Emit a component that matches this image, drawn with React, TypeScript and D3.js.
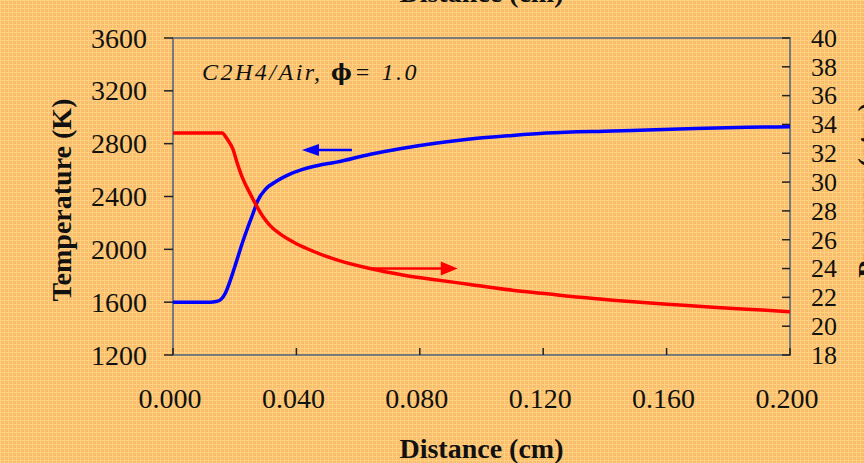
import React from "react";
import * as d3 from "d3";

const tempDist = [0, 0.012, 0.014, 0.0155, 0.017, 0.0185, 0.0195, 0.021, 0.0225, 0.024, 0.026, 0.0275, 0.030, 0.0335, 0.037, 0.042, 0.047, 0.053, 0.064, 0.0745, 0.0856, 0.0963, 0.11, 0.121, 0.1426, 0.164, 0.186, 0.2];
const tempVals = [1600, 1600, 1605, 1620, 1670, 1760, 1830, 1940, 2050, 2150, 2275, 2370, 2455, 2515, 2560, 2605, 2635, 2660, 2720, 2765, 2805, 2835, 2862, 2880, 2896, 2911, 2924, 2928];

const presDist = [0, 0.0159, 0.0175, 0.0194, 0.0207, 0.0227, 0.025, 0.0272, 0.0292, 0.0314, 0.0347, 0.0402, 0.0454, 0.0531, 0.0638, 0.0745, 0.0856, 0.0963, 0.11, 0.1212, 0.1319, 0.1426, 0.1536, 0.1643, 0.175, 0.186, 0.2];
const presVals = [33.4, 33.4, 33.0, 32.3, 31.4, 30.2, 29.2, 28.3, 27.6, 27.0, 26.4, 25.7, 25.2, 24.6, 24.0, 23.55, 23.2, 22.9, 22.5, 22.25, 22.0, 21.8, 21.62, 21.47, 21.32, 21.18, 21.0];

const xTicks = [0, 0.04, 0.08, 0.12, 0.16, 0.2];
const xTickLabels = ["0.000", "0.040", "0.080", "0.120", "0.160", "0.200"];
const leftTicks = [1200, 1600, 2000, 2400, 2800, 3200, 3600];
const rightTicks = [18, 20, 22, 24, 26, 28, 30, 32, 34, 36, 38, 40];

// annotation arrows: [fromDist, toDist, value]
const tempArrow = [0.058, 0.0418, 2752];
const presArrow = [0.0638, 0.0923, 24.0];

const xLabel = "Distance (cm)";
const leftLabel = "Temperature (K)";
const rightLabel = "Pressure (atm)";

export default function App() {
  const W = 864, H = 463;
  const L = 173, R = 790, T = 38, B = 355;
  const x = d3.scaleLinear().domain([0, 0.2]).range([L, R]);
  const yT = d3.scaleLinear().domain([1200, 3600]).range([B, T]);
  const yP = d3.scaleLinear().domain([18, 40]).range([B, T]);

  const tLine = d3.line<number>().x((_, i) => x(tempDist[i])).y((v) => yT(v)).curve(d3.curveMonotoneX);
  const pLine = d3.line<number>().x((_, i) => x(presDist[i])).y((v) => yP(v)).curve(d3.curveMonotoneX);

  const font = "'Liberation Serif', 'Times New Roman', serif";
  const axisCol = "#7a7a7a";

  const bx1 = x(tempArrow[0]), bx2 = x(tempArrow[1]), by = yT(tempArrow[2]);
  const rx1 = x(presArrow[0]), rx2 = x(presArrow[1]), ry = yP(presArrow[2]);

  return (
    <svg width={W} height={H} style={{ position: "absolute", left: 0, top: 0 }} fontFamily={font}>
      <defs>
        <pattern id="dither" width="4" height="4" patternUnits="userSpaceOnUse">
          <rect width="4" height="4" fill="#fdb86c" />
          <rect x="0" y="0" width="4" height="1" fill="#fbd37e" />
          <rect x="0" y="0" width="1" height="4" fill="#fbd37e" />
          <rect x="2" y="2" width="1" height="1" fill="#e6d27a" />
        </pattern>
      </defs>
      <rect width={W} height={H} fill="url(#dither)" />

      {/* frame */}
      <rect x={L} y={T} width={R - L} height={B - T} fill="none" stroke={axisCol} strokeWidth={2} />

      {/* left ticks */}
      {leftTicks.map((t) => (
        <g key={"l" + t}>
          <line x1={L - 9} x2={L} y1={yT(t)} y2={yT(t)} stroke="#222" strokeWidth={1.5} />
          <text x={147} y={yT(t)} dy="0.34em" textAnchor="end" fontSize={28} fill="#111">{t}</text>
        </g>
      ))}

      {/* right ticks */}
      {rightTicks.map((t) => (
        <g key={"r" + t}>
          <line x1={R - 8} x2={R} y1={yP(t)} y2={yP(t)} stroke="#222" strokeWidth={1.5} />
          <text x={811} y={yP(t)} dy="0.34em" textAnchor="start" fontSize={26} fill="#111">{t}</text>
        </g>
      ))}

      {/* x ticks */}
      {xTicks.map((t, i) => (
        <g key={"x" + t}>
          <line x1={x(t)} x2={x(t)} y1={B} y2={B - 7} stroke="#222" strokeWidth={1.5} />
          <text x={x(t) - 3} y={408} textAnchor="middle" fontSize={28} fill="#111">{xTickLabels[i]}</text>
        </g>
      ))}

      {/* series */}
      <path d={tLine(tempVals) || ""} fill="none" stroke="#0000ff" strokeWidth={3.5} />
      <path d={pLine(presVals) || ""} fill="none" stroke="#ff0000" strokeWidth={3.5} />

      {/* arrows */}
      <line x1={bx1} x2={bx2 + 14} y1={by} y2={by} stroke="#0000ff" strokeWidth={2.5} />
      <path d={`M${bx2},${by} L${bx2 + 17},${by - 6} L${bx2 + 17},${by + 6} Z`} fill="#0000ff" />
      <line x1={rx1} x2={rx2 - 14} y1={ry} y2={ry} stroke="#ff0000" strokeWidth={2.5} />
      <path d={`M${rx2},${ry} L${rx2 - 17},${ry - 7} L${rx2 - 17},${ry + 7} Z`} fill="#ff0000" />

      {/* annotation */}
      <text x={202} y={80} fontSize={24} fontStyle="italic" fill="#111" letterSpacing={2.5}>
        C2H4/Air,{"  "}
        <tspan fontWeight="bold" fontStyle="normal" fontFamily="'DejaVu Serif', serif" fontSize={22}>ϕ</tspan>
        = 1.0
      </text>

      {/* axis titles */}
      <text x={(L + R) / 2} y={458} textAnchor="middle" fontSize={28} fontWeight="bold" fill="#111">{xLabel}</text>
      <text x={(L + R) / 2} y={2} textAnchor="middle" fontSize={28} fontWeight="bold" fill="#111">{xLabel}</text>
      <text transform={`translate(71,200) rotate(-90)`} textAnchor="middle" fontSize={28} fontWeight="bold" fill="#111">{leftLabel}</text>
      <text transform={`translate(877,190) rotate(-90)`} textAnchor="middle" fontSize={28} fontWeight="bold" fill="#111">{rightLabel}</text>
    </svg>
  );
}
